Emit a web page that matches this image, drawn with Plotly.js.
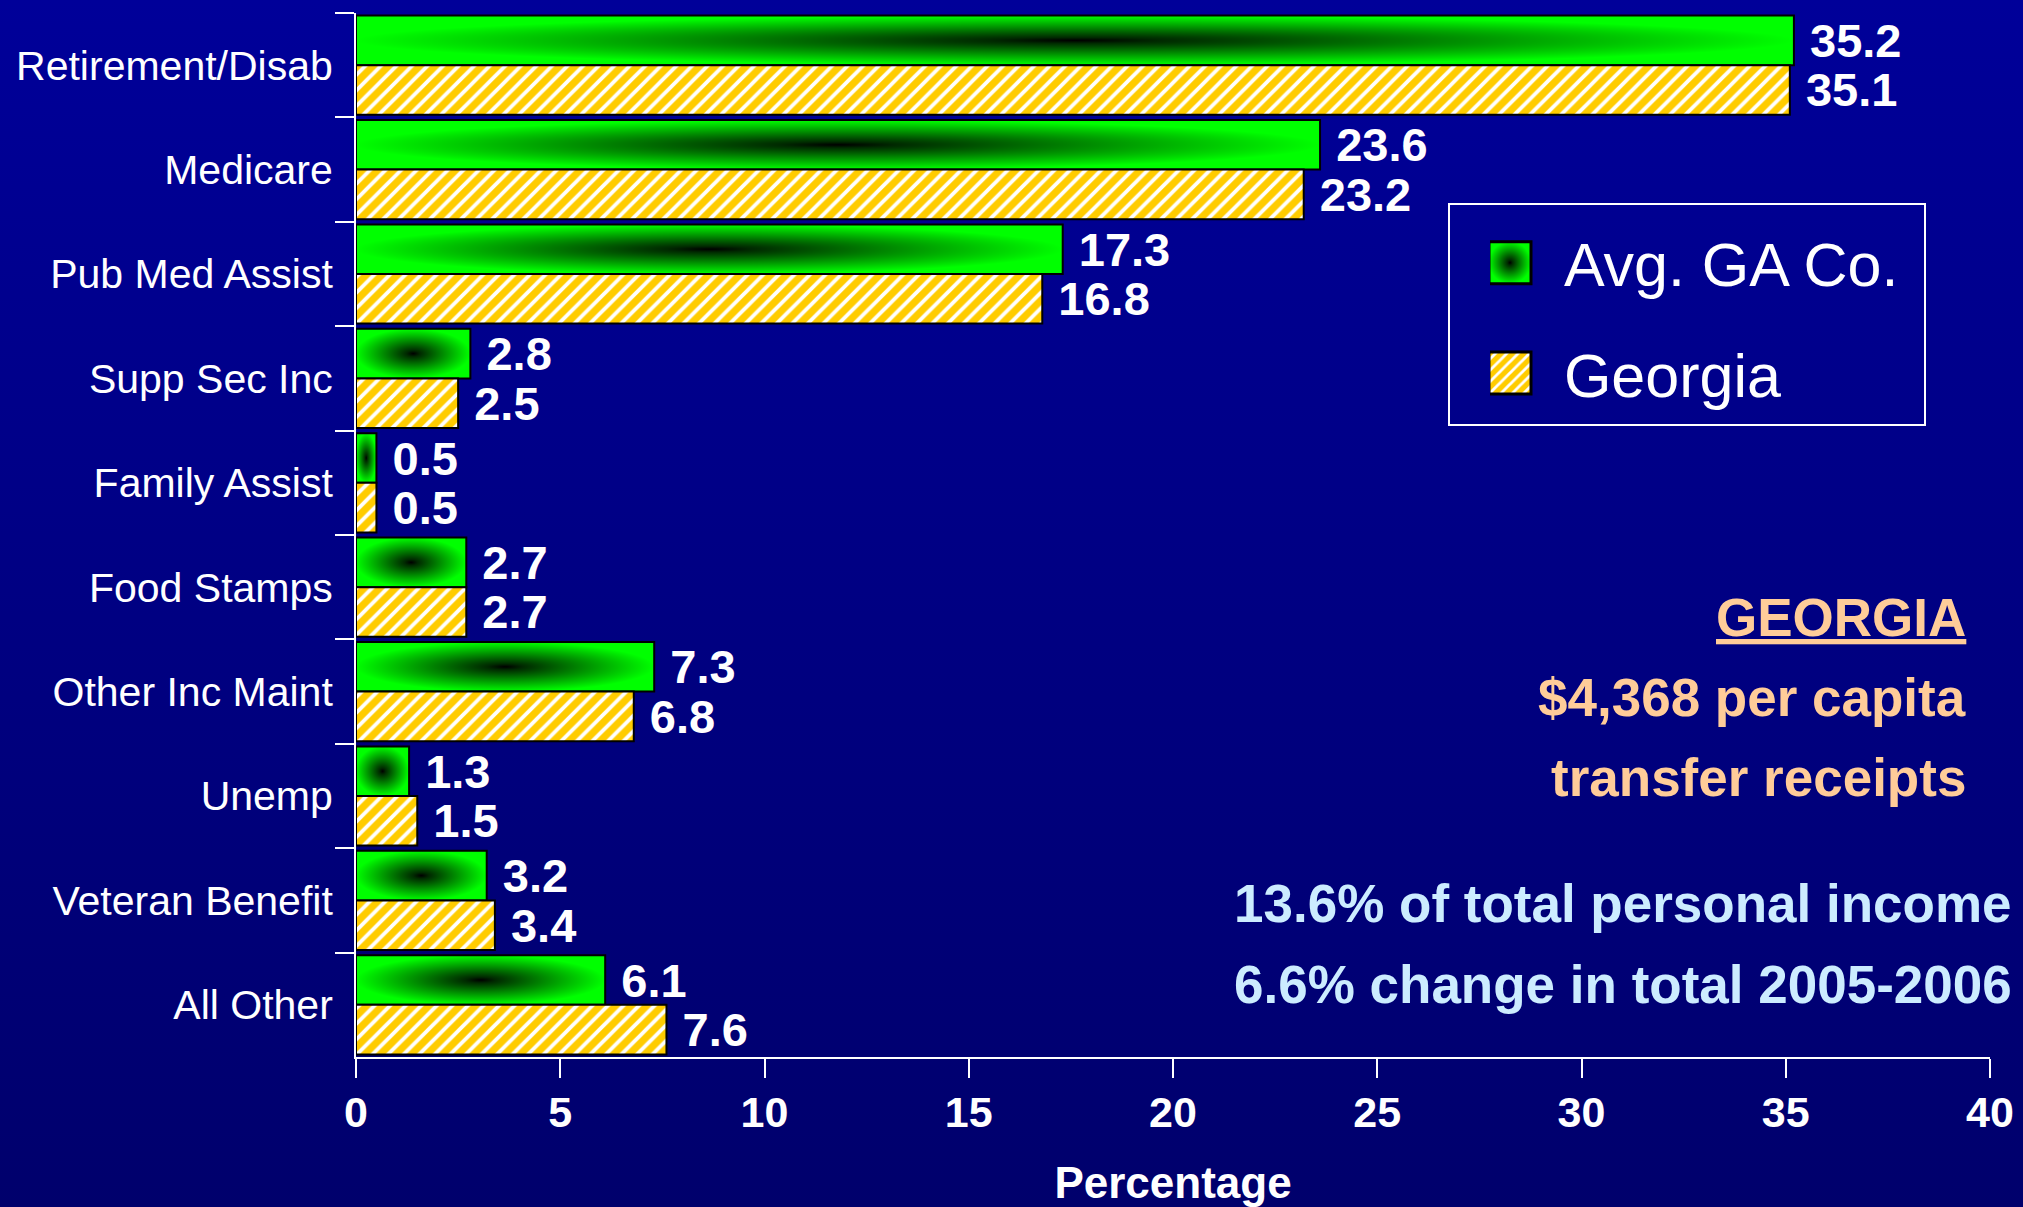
<!DOCTYPE html>
<html>
<head>
<meta charset="utf-8">
<script src="https://cdn.plot.ly/plotly-3.0.1.min.js"></script>
<style>
  html, body { margin: 0; padding: 0; }
  body { width: 2023px; height: 1207px; background: linear-gradient(#000099, #00006C); overflow: hidden; }
  #chart { width: 2023px; height: 1207px; }
</style>
</head>
<body>
<div id="chart"></div>
<script>
// ---- data ----
const categories = ['Retirement/Disab', 'Medicare', 'Pub Med Assist', 'Supp Sec Inc', 'Family Assist',
                    'Food Stamps', 'Other Inc Maint', 'Unemp', 'Veteran Benefit', 'All Other'];
const avgGACo = [35.2, 23.6, 17.3, 2.8, 0.5, 2.7, 7.3, 1.3, 3.2, 6.1];
const georgia = [35.1, 23.2, 16.8, 2.5, 0.5, 2.7, 6.8, 1.5, 3.4, 7.6];
const seriesNames = ['Avg. GA Co.', 'Georgia'];
const xTickVals = [0, 5, 10, 15, 20, 25, 30, 35, 40];
const xTitle = 'Percentage';
const noteLines = ['GEORGIA', '$4,368 per capita', 'transfer receipts'];
const statLines = ['13.6% of total personal income', '6.6% change in total 2005-2006'];

const FONT = 'Liberation Sans, Arial, sans-serif';
const NBSP = '\u00A0';

const data = [
  {
    type: 'bar', orientation: 'h', name: NBSP + NBSP + seriesNames[0], legendgroup: 'a',
    y: categories, x: avgGACo,
    text: avgGACo.map(v => NBSP + v.toFixed(1)), textposition: 'outside', cliponaxis: false,
    constraintext: 'none',
    textfont: { family: FONT, size: 47, color: '#ffffff', weight: 'bold' },
    marker: { color: '#00F000', line: { color: '#000000', width: 2 } }
  },
  {
    type: 'bar', orientation: 'h', name: NBSP + NBSP + seriesNames[1], legendgroup: 'b',
    y: categories, x: georgia,
    text: georgia.map(v => NBSP + v.toFixed(1)), textposition: 'outside', cliponaxis: false,
    constraintext: 'none',
    textfont: { family: FONT, size: 47, color: '#ffffff', weight: 'bold' },
    marker: {
      color: '#FFCC00', line: { color: '#000000', width: 2 },
      pattern: { shape: '/', fgcolor: '#ffffff', bgcolor: '#FFCC00', size: 11, solidity: 0.35 }
    }
  }
];

const W = 2023, H = 1207;
const mL = 356, mR = 33, mT = 13, mB = 150;
const pw = W - mL - mR, ph = H - mT - mB;
const px = x => (x - mL) / pw;
const py = y => 1 - (y - mT) / ph;

const annotations = [];
const peachY = [617, 697, 777];
noteLines.forEach((t, i) => annotations.push({
  xref: 'paper', yref: 'paper', x: px(1968), y: py(peachY[i]), xanchor: 'right', yanchor: 'middle',
  text: t, showarrow: false,
  font: { family: FONT, size: 53, color: '#FFCC99', weight: 'bold', lineposition: i === 0 ? 'under' : 'none' }
}));
const blueY = [903, 984];
statLines.forEach((t, i) => annotations.push({
  xref: 'paper', yref: 'paper', x: px(2014), y: py(blueY[i]), xanchor: 'right', yanchor: 'middle',
  text: t, showarrow: false,
  font: { family: FONT, size: 53, color: '#CCECFF', weight: 'bold' }
}));

const layout = {
  width: W, height: H,
  paper_bgcolor: 'rgba(0,0,0,0)', plot_bgcolor: 'rgba(0,0,0,0)',
  margin: { l: mL, r: mR, t: mT, b: mB, pad: 0 },
  barmode: 'group', bargap: 0.05, bargroupgap: 0,
  showlegend: true,
  legend: {
    x: px(1490), y: py(318), xanchor: 'left', yanchor: 'middle',
    bgcolor: 'rgba(0,0,0,0)', borderwidth: 0,
    font: { family: FONT, size: 61, color: '#ffffff' },
    traceorder: 'grouped', tracegroupgap: 28
  },
  xaxis: {
    range: [0, 40], tickvals: xTickVals, ticks: 'outside', ticklen: 19, tickwidth: 2, tickcolor: '#ffffff',
    showline: true, linecolor: '#ffffff', linewidth: 2, showgrid: false, zeroline: false,
    tickfont: { family: FONT, size: 43, color: '#ffffff', weight: 'bold' },
    ticklabelstandoff: -3,
    title: { text: xTitle, font: { family: FONT, size: 44, color: '#ffffff', weight: 'bold' }, standoff: 42 },
    automargin: false, fixedrange: true
  },
  yaxis: {
    type: 'category', autorange: 'reversed', tickson: 'boundaries',
    ticks: 'outside', ticklen: 19, tickwidth: 2, tickcolor: '#ffffff',
    showline: true, linecolor: '#ffffff', linewidth: 2, showgrid: false, zeroline: false,
    tickfont: { family: FONT, size: 41, color: '#ffffff' },
    ticklabelstandoff: 13,
    automargin: false, fixedrange: true
  },
  shapes: [{
    type: 'rect', xref: 'paper', yref: 'paper',
    x0: px(1449), x1: px(1925), y0: py(425), y1: py(204),
    line: { color: '#ffffff', width: 2 }, fillcolor: 'rgba(0,0,0,0)'
  }],
  annotations: annotations
};

const gd = document.getElementById('chart');
Plotly.newPlot(gd, data, layout, { staticPlot: true, displayModeBar: false }).then(() => {
  const NS = 'http://www.w3.org/2000/svg';
  const svg = gd.querySelector('svg.main-svg');
  const defs = svg.querySelector('defs');
  const grad = document.createElementNS(NS, 'radialGradient');
  grad.setAttribute('id', 'greenCenterGrad');
  grad.setAttribute('cx', '0.5'); grad.setAttribute('cy', '0.5'); grad.setAttribute('r', '0.5');
  [['0', '#000000'], ['0.12', '#002a00'], ['1', '#00FF00']].forEach(([o, c]) => {
    const s = document.createElementNS(NS, 'stop');
    s.setAttribute('offset', o); s.setAttribute('stop-color', c);
    grad.appendChild(s);
  });
  defs.appendChild(grad);
  const traces = gd.querySelectorAll('.barlayer .trace');
  if (traces[0]) traces[0].querySelectorAll('.point path').forEach(p => { p.style.fill = 'url(#greenCenterGrad)'; });
  gd.querySelectorAll('.legend .traces').forEach((t, i) => {
    const p = t.querySelector('.legendpoints path');
    if (!p) return;
    p.setAttribute('d', 'M21,21H-21V-21H21Z');
    p.setAttribute('transform', 'translate(20,0)');
    p.style.strokeWidth = '3px';
    if (i === 0) p.style.fill = 'url(#greenCenterGrad)';
  });
});
</script>
</body>
</html>
